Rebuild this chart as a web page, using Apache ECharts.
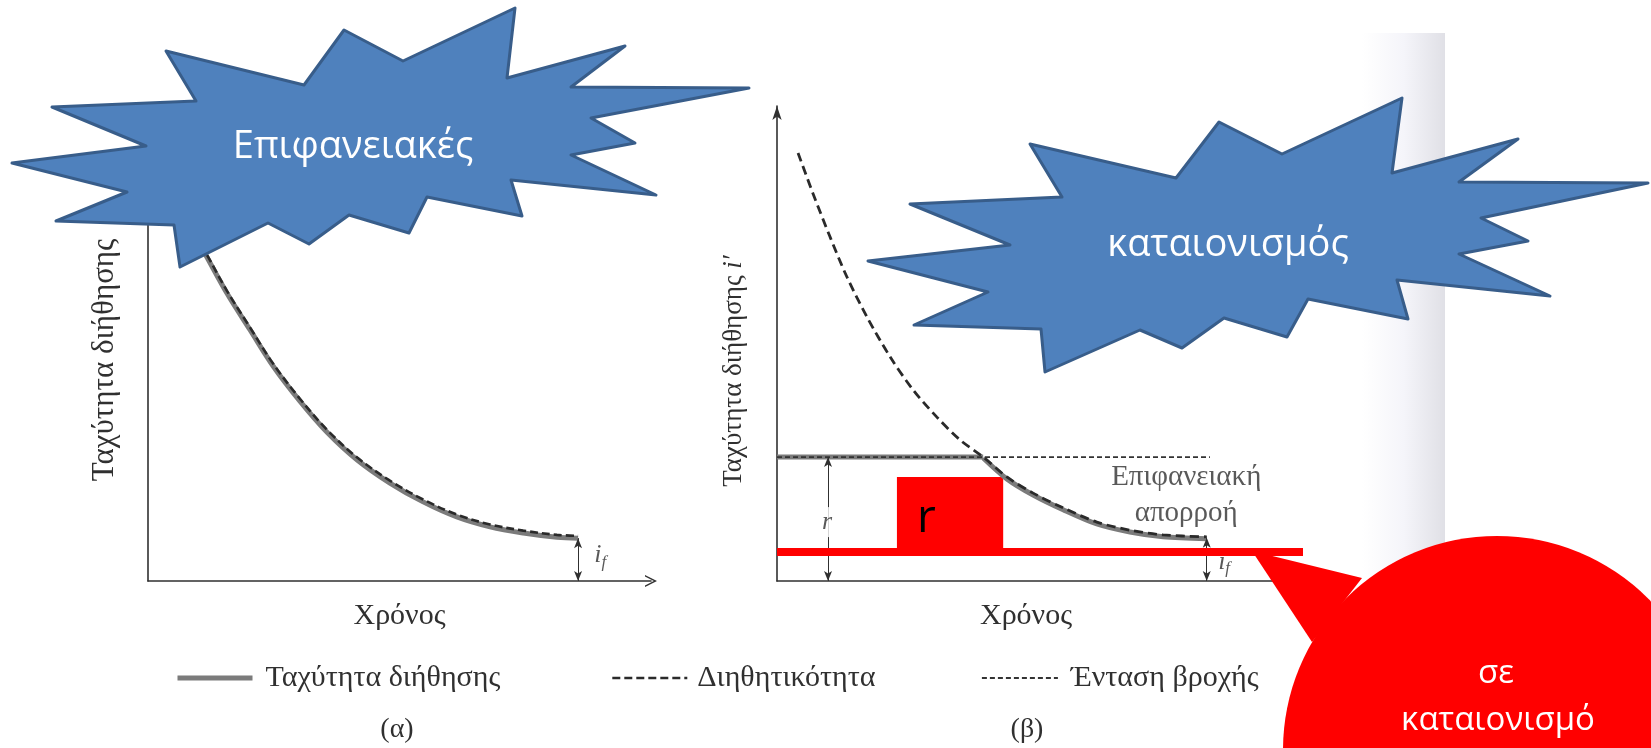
<!DOCTYPE html>
<html>
<head>
<meta charset="utf-8">
<script src="https://cdn.jsdelivr.net/npm/echarts@6/dist/echarts.min.js"></script>
<style>html,body{margin:0;padding:0;background:#fff}#c{width:1651px;height:748px}</style>
</head>
<body>
<div id="c"></div>
<script>
// ---- data (time and rate in arbitrary units 0..10) ----
const leftTime = [0.83, 1.17, 1.57, 2.03, 2.49, 3.02, 3.56, 4.16, 4.81, 5.47, 6.14, 6.80, 7.46, 8.13, 8.55];
const leftInfiltration = [7.54, 6.88, 6.11, 5.33, 4.56, 3.82, 3.16, 2.57, 2.08, 1.68, 1.36, 1.15, 1.02, 0.93, 0.91];
const leftCapacity = [7.59, 6.93, 6.16, 5.38, 4.61, 3.87, 3.21, 2.62, 2.13, 1.73, 1.41, 1.20, 1.07, 0.98, 0.96];
const leftFinalTime = 8.55;
const leftFinalRate = 0.91;

const rightTime = [0.40, 0.68, 1.01, 1.33, 1.71, 2.15, 2.59, 3.04, 3.48, 3.92, 4.37, 4.87, 5.44, 6.08, 6.71, 7.34, 8.17];
const rightCapacity = [9.01, 8.17, 7.24, 6.40, 5.56, 4.72, 4.02, 3.45, 2.97, 2.61, 2.19, 1.85, 1.54, 1.24, 1.07, 0.97, 0.93];
const rightInfilTime = [3.92, 4.37, 4.87, 5.44, 6.08, 6.71, 7.34, 8.17];
const rightInfiltration = [2.59, 2.15, 1.81, 1.50, 1.20, 1.03, 0.93, 0.89];
const rainIntensity = 2.61;
const rainTime = [0, 8.23];
const pondingTime = 3.92;
const rightFinalTime = 8.17;
const rightFinalRate = 0.91;
const rArrowTime = 0.97;
const redLineLevel = 0.61;
const redLineTime = [0, 10];
const redRectTime = [2.28, 4.30];
const redRectRate = [0.61, 2.19];

const nameInfil = 'Ταχύτητα διήθησης';
const nameCap = 'Διηθητικότητα';
const nameRain = 'Ένταση βροχής';
const axisTime = 'Χρόνος';

const zip = (xs, ys) => xs.map((x, i) => [x, ys[i]]);

const bookFont = 'Liberation Serif';
const pptFont = 'Open Sans';
const ink = '#303030';

const chevron = 'path://M0,12 L6,0 L12,12 L10.4,12 L6,3.2 L1.6,12 Z';

function baseAxis(extra) {
  return Object.assign({
    type: 'value', min: 0, max: 10,
    axisTick: {show: false}, axisLabel: {show: false}, splitLine: {show: false},
    axisLine: {show: true, onZero: false, lineStyle: {color: ink, width: 1.6}}
  }, extra);
}

const ifRich = {
  i: {fontFamily: bookFont, fontStyle: 'italic', fontSize: 26, color: ink},
  f: {fontFamily: bookFont, fontStyle: 'italic', fontSize: 17, color: ink, padding: [14, 0, 0, 0]}
};

const arrowMark = (x, y1) => ({
  silent: true,
  symbol: ['arrow', 'arrow'],
  symbolSize: [6, 10],
  label: {show: false},
  lineStyle: {color: ink, width: 1, type: 'solid'},
  emphasis: {disabled: true},
  data: [[{coord: [x, 0]}, {coord: [x, y1]}]]
});

const legendBase = (names, left, pad, w) => ({
  data: names, left: left, top: 663, padding: 0, itemWidth: w, itemHeight: 14, selectedMode: false,
  lineStyle: {width: 'inherit'},
  itemStyle: {opacity: 0},
  textStyle: {fontFamily: bookFont, fontSize: 30, color: ink, padding: [0, 0, 0, pad]}
});

const chart = echarts.init(document.getElementById('c'), null, {renderer: 'canvas'});

const option = {
  backgroundColor: '#ffffff',
  animation: false,
  grid: [
    {left: 148, top: 110, width: 503, height: 471},
    {left: 777, top: 106, width: 526, height: 475}
  ],
  xAxis: [
    baseAxis({gridIndex: 0, name: axisTime, nameLocation: 'middle', nameGap: 20,
      nameTextStyle: {fontFamily: bookFont, fontSize: 30, color: ink},
      axisLine: {show: true, onZero: false, symbol: ['none', chevron], symbolSize: [12, 12],
        lineStyle: {color: ink, width: 1.6}}}),
    baseAxis({gridIndex: 1, name: axisTime, nameLocation: 'middle', nameGap: 20,
      nameTextStyle: {fontFamily: bookFont, fontSize: 30, color: ink, padding: [0, 28, 0, 0]}})
  ],
  yAxis: [
    baseAxis({gridIndex: 0, name: nameInfil, nameLocation: 'middle', nameGap: 28,
      nameTextStyle: {fontFamily: bookFont, fontSize: 31, color: ink, padding: [0, 29, 0, 0]}}),
    baseAxis({gridIndex: 1, name: nameInfil + ' {it|i′}', nameLocation: 'middle', nameGap: 30,
      nameTextStyle: {fontFamily: bookFont, fontSize: 27, color: ink, padding: [0, 55, 0, 0],
        rich: {it: {fontFamily: bookFont, fontStyle: 'italic', fontSize: 27, color: ink}}},
      axisLine: {show: true, onZero: false, symbol: ['none', 'arrow'], symbolSize: [7, 14],
        lineStyle: {color: ink, width: 1.6}}})
  ],
  legend: [
    legendBase([nameInfil], 175, 8, 75),
    legendBase([nameCap], 611, 5, 75),
    legendBase([nameRain], 981, 8, 76)
  ],
  series: [
    // ----- (α) -----
    {type: 'line', name: nameInfil, xAxisIndex: 0, yAxisIndex: 0, data: zip(leftTime, leftInfiltration),
      smooth: 0.35, symbol: 'none', z: 2,
      itemStyle: {color: '#7b7b7b'}, lineStyle: {color: '#7b7b7b', width: 5},
      markLine: arrowMark(leftFinalTime, leftFinalRate)},
    {type: 'line', name: nameCap, xAxisIndex: 0, yAxisIndex: 0, data: zip(leftTime, leftCapacity),
      smooth: 0.35, symbol: 'none', z: 3,
      itemStyle: {color: '#2a2a2a'}, lineStyle: {color: '#2a2a2a', width: 2.6, type: [8, 4]}},
    {type: 'scatter', xAxisIndex: 0, yAxisIndex: 0, symbolSize: 0, silent: true, z: 6,
      data: [{name: '{i|i}{f|f}', value: [8.99, 0.55]}],
      label: {show: true, position: 'inside', formatter: p => p.name, rich: ifRich}},

    // ----- (β) -----
    {type: 'line', name: nameInfil, xAxisIndex: 1, yAxisIndex: 1, data: [[0, rainIntensity], [pondingTime, rainIntensity]],
      symbol: 'none', z: 2, itemStyle: {color: '#7b7b7b'}, lineStyle: {color: '#7b7b7b', width: 5}},
    {type: 'line', name: nameInfil, xAxisIndex: 1, yAxisIndex: 1, data: zip(rightInfilTime, rightInfiltration),
      smooth: 0.3, symbol: 'none', z: 2, itemStyle: {color: '#7b7b7b'}, lineStyle: {color: '#7b7b7b', width: 5}},
    {type: 'line', name: nameCap, xAxisIndex: 1, yAxisIndex: 1, data: zip(rightTime, rightCapacity),
      smooth: 0.3, symbol: 'none', z: 3,
      itemStyle: {color: '#2a2a2a'}, lineStyle: {color: '#2a2a2a', width: 2.8, type: [9, 5]}},
    {type: 'line', name: nameRain, xAxisIndex: 1, yAxisIndex: 1, data: rainTime.map(t => [t, rainIntensity]),
      symbol: 'none', z: 4,
      itemStyle: {color: '#333333'}, lineStyle: {color: '#333333', width: 1.8, type: [5, 3]},
      markLine: {
        silent: true, symbol: ['arrow', 'arrow'], symbolSize: [6, 10], label: {show: false},
        lineStyle: {color: ink, width: 1, type: 'solid'},
        data: [
          [{coord: [rArrowTime, 0]}, {coord: [rArrowTime, rainIntensity]}],
          [{coord: [rightFinalTime, 0]}, {coord: [rightFinalTime, rightFinalRate]}]
        ]
      }},
    {type: 'scatter', xAxisIndex: 1, yAxisIndex: 1, symbolSize: 0, silent: true, z: 6,
      data: [
        {name: '{r|r}', value: [0.95, 1.24]},
        {name: '{i|i}{f|f}', value: [8.50, 0.40]},
        {name: '{t|Επιφανειακή}', value: [7.78, 2.19]},
        {name: '{t|απορροή}', value: [7.78, 1.43]}
      ],
      label: {show: true, position: 'inside', formatter: p => p.name,
        rich: Object.assign({
          r: {fontFamily: bookFont, fontStyle: 'italic', fontSize: 26, color: ink, backgroundColor: '#fff', padding: [2, 1]},
          t: {fontFamily: bookFont, fontSize: 29, color: ink}
        }, ifRich)}},
    {type: 'line', xAxisIndex: 1, yAxisIndex: 1, data: redLineTime.map(t => [t, redLineLevel]),
      symbol: 'none', z: 8, silent: true,
      lineStyle: {color: '#ff0000', width: 8, cap: 'butt'}, itemStyle: {color: '#ff0000'},
      markArea: {
        silent: true,
        itemStyle: {color: '#ff0000', opacity: 1},
        label: {show: true, position: 'insideLeft', distance: 20, offset: [0, 4],
          color: '#000', fontFamily: pptFont, fontSize: 46},
        data: [[{name: 'r', coord: [redRectTime[0], redRectRate[0]]}, {coord: [redRectTime[1], redRectRate[1]]}]]
      }}
  ],
  graphic: [
    // scanned-page binding shadow
    {type: 'rect', z: 0, silent: true, shape: {x: 1362, y: 33, width: 83, height: 715},
      style: {fill: new echarts.graphic.LinearGradient(0, 0, 1, 0, [
        {offset: 0, color: 'rgba(255,255,255,1)'},
        {offset: 0.5, color: '#f5f5fa'},
        {offset: 1, color: '#e0e0e6'}])}},
    {type: 'text', z: 5, silent: true, x: 397, y: 730,
      style: {text: '(α)', fontFamily: bookFont, fontSize: 28, fill: ink, align: 'center', verticalAlign: 'middle'}},
    {type: 'text', z: 5, silent: true, x: 1027, y: 730,
      style: {text: '(β)', fontFamily: bookFont, fontSize: 28, fill: ink, align: 'center', verticalAlign: 'middle'}},
    // blue explosion shapes
    {type: 'polygon', z: 100, silent: true,
      shape: {points: [[166,51],[304,85],[344,30],[403,61],[515,8],[507,78],[625,46],[571,87],[749,88],[591,118],
        [635,143],[571,155],[656,195],[511,180],[522,216],[427,197],[409,233],[349,215],[309,244],[268,223],
        [180,267],[174,225],[56,221],[127,192],[12,163],[146,146],[52,107],[196,101]]},
      style: {fill: '#4f81bd', stroke: '#385d8a', lineWidth: 3, lineJoin: 'round'}},
    {type: 'text', z: 101, silent: true, x: 353, y: 147,
      style: {text: 'Επιφανειακές', fontFamily: pptFont, fontSize: 38, fill: '#ffffff', align: 'center', verticalAlign: 'middle'}},
    {type: 'polygon', z: 100, silent: true,
      shape: {points: [[1030,144],[1176,178],[1219,122],[1282,154],[1402,98],[1392,173],[1518,139],[1459,182],
        [1648,183],[1481,218],[1528,241],[1459,254],[1550,296],[1397,280],[1408,319],[1308,299],[1287,337],
        [1224,318],[1182,348],[1140,330],[1045,372],[1041,329],[914,325],[988,292],[868,261],[1010,245],
        [910,204],[1062,197]]},
      style: {fill: '#4f81bd', stroke: '#385d8a', lineWidth: 3, lineJoin: 'round'}},
    {type: 'text', z: 101, silent: true, x: 1228, y: 245,
      style: {text: 'καταιονισμός', fontFamily: pptFont, fontSize: 38, fill: '#ffffff', align: 'center', verticalAlign: 'middle'}},
    // red callout
    {type: 'polygon', z: 100, silent: true,
      shape: {points: [[1252,551],[1362,578],[1312,642]]},
      style: {fill: '#ff0000'}},
    {type: 'circle', z: 100, silent: true, shape: {cx: 1497, cy: 750, r: 214}, style: {fill: '#ff0000'}},
    {type: 'text', z: 101, silent: true, x: 1496, y: 674,
      style: {text: 'σε', fontFamily: pptFont, fontSize: 33, fill: '#ffffff', align: 'center', verticalAlign: 'middle'}},
    {type: 'text', z: 101, silent: true, x: 1498, y: 721,
      style: {text: 'καταιονισμό', fontFamily: pptFont, fontSize: 33, fill: '#ffffff', align: 'center', verticalAlign: 'middle'}}
  ]
};

chart.setOption(option);
</script>
</body>
</html>
